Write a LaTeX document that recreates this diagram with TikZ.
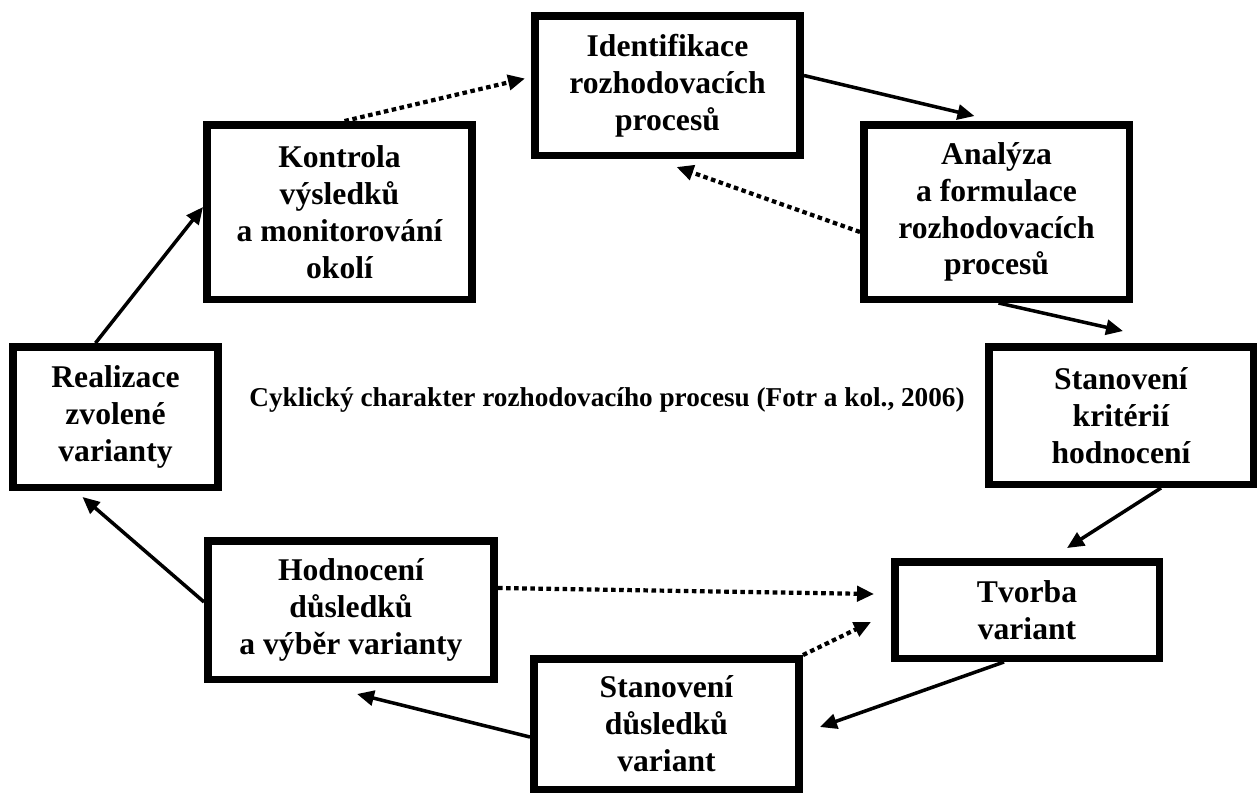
\documentclass[tikz,border=0pt]{standalone}
\usepackage{fontspec}
\setmainfont{Liberation Serif}
\usepackage{xcolor}
\usepackage{tikz}
\usetikzlibrary{arrows.meta,calc}
\definecolor{procInk}{HTML}{000000}
\tikzset{
  procbox/.style={draw=procInk, fill=white, line width=4.25pt,
    align=center, inner sep=0pt,
    font=\bfseries\fontsize{18}{21}\selectfont},
  procflow/.style={-{Triangle[length=0.34cm,width=0.30cm]},
    draw=procInk, line width=2pt},
  prochint/.style={-{Triangle[length=0.34cm,width=0.30cm]},
    draw=procInk, line width=2.4pt, dash pattern=on 2.6pt off 2pt},
  proctitle/.style={font=\bfseries\fontsize{15.5}{18}\selectfont,
    text=procInk},
}

\begin{document}
\begin{tikzpicture}[x=0.02cm,y=-0.02cm]
  \path[use as bounding box] (0,0) rectangle (1258,796);

  % Steps of the cycle, clockwise from the top.
  \node[procbox,minimum width=5.31cm,minimum height=2.79cm]
    (ident) at (667.5,85.5) {Identifikace\\rozhodovacích\\procesů};
  \node[procbox,minimum width=5.31cm,minimum height=3.49cm]
    (anal) at (996.5,212) {Analýza\\a formulace\\rozhodovacích\\procesů};
  \node[procbox,minimum width=5.29cm,minimum height=2.75cm]
    (krit) at (1121,415.5) {Stanovení\\kritérií\\hodnocení};
  \node[procbox,minimum width=5.29cm,minimum height=1.93cm]
    (tvorba) at (1027,610) {Tvorba\\variant};
  \node[procbox,minimum width=5.31cm,minimum height=2.61cm]
    (dusledky) at (666.5,724) {Stanovení\\důsledků\\variant};
  \node[procbox,minimum width=5.73cm,minimum height=2.77cm]
    (hodnoceni) at (351,610) {Hodnocení\\důsledků\\a výběr varianty};
  \node[procbox,minimum width=4.11cm,minimum height=2.81cm]
    (realizace) at (115.5,417) {Realizace\\zvolené\\varianty};
  \node[procbox,minimum width=5.31cm,minimum height=3.49cm]
    (kontrola) at (339.5,212) {Kontrola\\výsledků\\a monitorování\\okolí};

  \node[proctitle] (caption) at (607,400)
    {Cyklický charakter rozhodovacího procesu (Fotr a kol., 2006)};

  % Main cycle.
  \draw[procflow] ($(ident.east)+(0,-10)$)--($(anal.north)+(-22,-5)$);
  \draw[procflow] ($(anal.south)+(2,0)$)--($(krit.north)+(2,-12)$);
  \draw[procflow] ($(krit.south)+(40,0)$)--($(tvorba.north)+(40,-10)$);
  \draw[procflow] ($(tvorba.south)+(-23,0)$)--($(dusledky.east)+(17,3)$);
  \draw[procflow] ($(dusledky.west)+(0,13)$)--($(hodnoceni.south)+(6,11)$);
  \draw[procflow] ($(hodnoceni.west)+(0,-8)$)--($(realizace.south)+(-33,6)$);
  \draw[procflow] ($(realizace.north)+(-20,0)$)--($(kontrola.west)+(0,-5)$);

  % Feedback loops.
  \draw[prochint] ($(kontrola.north)+(5,0)$)--($(ident.west)+(-6,-7)$);
  \draw[prochint] ($(anal.west)+(0,20)$)--($(ident.south)+(9,8)$);
  \draw[prochint] (dusledky.north east)--($(tvorba.west)+(-20,12)$);
  \draw[prochint] ($(hodnoceni.east)+(0,-22)$)--($(tvorba.west)+(-17,-16)$);
\end{tikzpicture}
\end{document}
